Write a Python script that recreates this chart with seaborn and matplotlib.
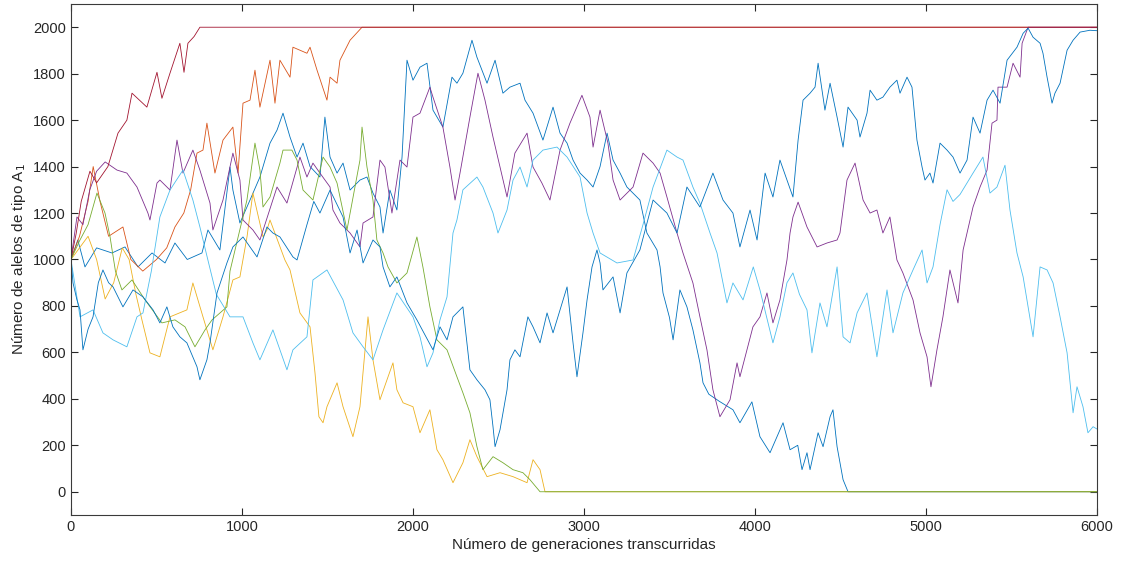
import matplotlib
matplotlib.use("Agg")
import matplotlib.pyplot as plt
import seaborn as sns

# generations / allele counts, one pair of lists per run
blue1_gen = [0, 40, 82, 150, 240, 316, 392, 474, 550, 608, 680, 766, 801, 871, 930, 947, 988, 1047, 1105,
             1164, 1205, 1240, 1281, 1322, 1357, 1398, 1456, 1485, 1515, 1556, 1591, 1632, 1690, 1731, 1766,
             1807, 1825, 1865, 1906, 1936, 1953, 1965, 2000, 2041, 2082, 2117, 2175, 2228, 2257, 2292, 2345,
             2374, 2433, 2480, 2526, 2567, 2626, 2655, 2702, 2760, 2819, 2860, 2901, 2936, 2977, 3018, 3053,
             3094, 3135, 3170, 3211, 3251, 3327, 3368, 3427, 3445, 3462, 3500, 3521, 3561, 3602, 3637, 3678,
             3696, 3730, 3790, 3871, 3912, 3982, 4029, 4088, 4164, 4205, 4250, 4275, 4304, 4322, 4369, 4398,
             4439, 4456, 4480, 4515, 4544, 6000]
blue1_val = [1000, 1084, 968, 1050, 1028, 1054, 968, 1028, 985, 1071, 1000, 1028, 1127, 1041, 1398, 1299, 1157,
             1256, 1355, 1501, 1557, 1630, 1527, 1441, 1501, 1400, 1355, 1613, 1441, 1372, 1415, 1299, 1342,
             1355, 1286, 1226, 1114, 1299, 1213, 1441, 1686, 1858, 1772, 1828, 1845, 1643, 1570, 1785, 1759,
             1802, 1944, 1871, 1759, 1858, 1716, 1742, 1759, 1686, 1630, 1514, 1656, 1544, 1501, 1428, 1372,
             1342, 1312, 1400, 1544, 1428, 1372, 1312, 1256, 1114, 1041, 968, 856, 750, 654, 869, 796, 697,
             555, 469, 420, 390, 353, 297, 387, 237, 168, 297, 181, 200, 95, 168, 95, 254, 194, 323, 353, 194,
             52, 0, 0]

orange_gen = [0, 50, 100, 130, 170, 220, 304, 350, 420, 500, 560, 608, 660, 700, 737, 772, 795, 842, 889, 947,
              977, 1006, 1047, 1076, 1105, 1164, 1193, 1222, 1281, 1298, 1380, 1398, 1439, 1497, 1515, 1556,
              1573, 1632, 1702, 6000]
orange_val = [1000, 1100, 1250, 1400, 1250, 1100, 1140, 1000, 950, 1000, 1050, 1140, 1200, 1300, 1458, 1471,
              1587, 1372, 1514, 1570, 1372, 1673, 1686, 1815, 1656, 1858, 1673, 1858, 1785, 1914, 1888, 1914,
              1815, 1686, 1785, 1759, 1858, 1944, 2000, 2000]

yellow_gen = [0, 50, 100, 150, 200, 250, 300, 340, 380, 415, 462, 520, 579, 678, 713, 772, 830, 889, 947, 988,
              1030, 1064, 1123, 1146, 1164, 1251, 1281, 1339, 1398, 1427, 1450, 1474, 1497, 1556, 1591, 1649,
              1690, 1737, 1766, 1807, 1883, 1906, 1942, 2000, 2041, 2099, 2140, 2175, 2234, 2292, 2333, 2374,
              2433, 2509, 2585, 2667, 2702, 2743, 2772, 6000]
yellow_val = [1000, 1050, 1100, 1000, 830, 900, 1050, 1000, 850, 740, 598, 581, 753, 783, 899, 753, 611, 753,
              912, 925, 1100, 1286, 1097, 1127, 1170, 998, 955, 770, 710, 512, 323, 297, 366, 469, 366, 237,
              366, 753, 568, 396, 555, 439, 383, 366, 254, 353, 181, 138, 39, 125, 224, 151, 65, 82, 65, 39,
              138, 95, 0, 0]

purple_gen = [0, 35, 70, 110, 150, 200, 269, 327, 386, 450, 462, 503, 520, 579, 620, 655, 713, 754, 813, 830,
              889, 947, 988, 1006, 1064, 1105, 1205, 1263, 1339, 1380, 1415, 1456, 1515, 1532, 1573, 1632, 1690,
              1708, 1766, 1807, 1836, 1877, 1924, 1965, 2000, 2041, 2099, 2117, 2175, 2216, 2246, 2275, 2333,
              2380, 2421, 2468, 2509, 2550, 2596, 2667, 2702, 2754, 2801, 2860, 2918, 2988, 3035, 3053, 3094,
              3140, 3170, 3211, 3287, 3345, 3404, 3445, 3485, 3544, 3579, 3637, 3678, 3719, 3754, 3795, 3854,
              3895, 3912, 3953, 3988, 4029, 4070, 4105, 4146, 4187, 4205, 4222, 4252, 4304, 4363, 4421, 4480,
              4497, 4538, 4585, 4632, 4673, 4713, 4748, 4789, 4830, 4865, 4924, 4965, 5006, 5029, 5064, 5099,
              5140, 5187, 5217, 5275, 5316, 5357, 5386, 5415, 5421, 5474, 5509, 5550, 5562, 5597, 6000]
purple_val = [1000, 1183, 1150, 1300, 1380, 1420, 1385, 1372, 1312, 1200, 1170, 1329, 1342, 1299, 1514, 1372,
              1471, 1385, 1243, 1127, 1256, 1458, 1342, 1170, 1127, 1084, 1312, 1243, 1441, 1355, 1415, 1372,
              1312, 1213, 1157, 1114, 1054, 1157, 1183, 1428, 1398, 1200, 1428, 1398, 1613, 1630, 1742, 1699,
              1570, 1398, 1256, 1372, 1613, 1802, 1686, 1527, 1398, 1269, 1458, 1544, 1398, 1329, 1256, 1471,
              1587, 1707, 1613, 1484, 1643, 1501, 1342, 1256, 1312, 1458, 1415, 1372, 1269, 1114, 1028, 899,
              753, 611, 439, 323, 396, 555, 495, 611, 710, 753, 856, 727, 826, 998, 1114, 1183, 1247, 1140,
              1054, 1071, 1084, 1114, 1342, 1415, 1256, 1200, 1213, 1114, 1183, 998, 942, 826, 684, 581, 452,
              611, 753, 955, 813, 1041, 1226, 1312, 1385, 1587, 1600, 1742, 1742, 1845, 1785, 1931, 2000, 2000]

green_gen = [0, 50, 100, 152, 199, 228, 260, 298, 357, 433, 532, 608, 667, 725, 784, 825, 912, 930, 1029, 1076,
             1105, 1123, 1164, 1222, 1240, 1292, 1322, 1357, 1415, 1474, 1515, 1556, 1614, 1690, 1702, 1731,
             1766, 1789, 1825, 1854, 1906, 1965, 2023, 2058, 2099, 2140, 2199, 2257, 2292, 2333, 2374, 2409,
             2468, 2526, 2585, 2643, 2684, 2743, 6000]
green_val = [1000, 1080, 1150, 1286, 1200, 1100, 950, 869, 912, 826, 727, 740, 710, 624, 697, 740, 796, 950,
             1256, 1501, 1385, 1226, 1269, 1415, 1471, 1471, 1428, 1299, 1256, 1441, 1398, 1329, 1127, 1428,
             1570, 1398, 1256, 1084, 1028, 968, 899, 942, 1097, 968, 796, 654, 611, 495, 426, 340, 194, 95,
             151, 125, 95, 82, 52, 0, 0]

lblue_gen = [0, 53, 129, 187, 246, 327, 386, 421, 470, 520, 579, 655, 713, 754, 800, 850, 930, 1006, 1064, 1105,
             1181, 1263, 1298, 1380, 1415, 1497, 1591, 1649, 1708, 1766, 1825, 1906, 2000, 2041, 2082, 2117,
             2158, 2199, 2234, 2257, 2292, 2374, 2409, 2468, 2497, 2550, 2585, 2626, 2667, 2702, 2760, 2842,
             2901, 2977, 3018, 3053, 3094, 3193, 3287, 3345, 3404, 3485, 3544, 3579, 3637, 3678, 3737, 3778,
             3836, 3871, 3930, 3990, 4029, 4105, 4146, 4187, 4222, 4260, 4304, 4333, 4380, 4421, 4480, 4515,
             4556, 4597, 4655, 4713, 4772, 4807, 4865, 4924, 4977, 5006, 5041, 5082, 5123, 5158, 5199, 5275,
             5333, 5374, 5415, 5462, 5491, 5532, 5568, 5626, 5667, 5708, 5743, 5784, 5825, 5860, 5883, 5918,
             5947, 5977, 6000]
lblue_val = [1000, 753, 783, 684, 654, 624, 753, 770, 950, 1183, 1299, 1385, 1256, 1140, 1000, 850, 753, 753,
             641, 568, 697, 525, 611, 667, 912, 955, 826, 684, 624, 568, 697, 856, 753, 667, 538, 598, 740,
             839, 1114, 1170, 1300, 1355, 1312, 1200, 1114, 1213, 1342, 1398, 1312, 1428, 1471, 1484, 1441,
             1355, 1200, 1114, 1028, 985, 998, 1150, 1312, 1471, 1441, 1428, 1312, 1243, 1114, 1028, 813, 899,
             826, 968, 869, 641, 753, 900, 942, 850, 783, 598, 813, 710, 968, 667, 641, 770, 856, 581, 869,
             684, 856, 955, 1041, 899, 968, 1150, 1300, 1250, 1280, 1372, 1441, 1286, 1312, 1406, 1213, 1028,
             925, 667, 968, 955, 899, 753, 598, 340, 452, 366, 254, 280, 270]

dred_gen = [0, 30, 60, 111, 150, 216, 275, 327, 357, 444, 503, 532, 579, 637, 661, 684, 720, 754, 6000]
dred_val = [1000, 1110, 1250, 1380, 1330, 1400, 1544, 1600, 1716, 1656, 1806, 1694, 1802, 1931, 1806, 1931,
            1960, 2000, 2000]

blue2_gen = [0, 12, 35, 53, 70, 100, 129, 160, 187, 220, 246, 304, 363, 421, 480, 520, 561, 596, 637, 678, 737,
             754, 795, 813, 854, 912, 947, 1006, 1088, 1146, 1181, 1222, 1298, 1322, 1380, 1420, 1456, 1515,
             1591, 1632, 1673, 1708, 1766, 1807, 1825, 1865, 1906, 1965, 2023, 2117, 2158, 2199, 2234, 2275,
             2292, 2333, 2374, 2421, 2450, 2468, 2480, 2509, 2550, 2567, 2596, 2626, 2672, 2702, 2743, 2784,
             2819, 2860, 2901, 2936, 2959, 2994, 3018, 3047, 3076, 3094, 3111, 3170, 3211, 3251, 3327, 3404,
             3485, 3544, 3602, 3678, 3754, 3813, 3871, 3912, 3971, 4012, 4059, 4105, 4146, 4187, 4222, 4252,
             4281, 4322, 4351, 4369, 4409, 4439, 4480, 4515, 4544, 4597, 4614, 4655, 4673, 4713, 4748, 4789,
             4830, 4848, 4889, 4918, 4947, 4977, 4994, 5023, 5041, 5082, 5123, 5158, 5199, 5240, 5275, 5316,
             5357, 5392, 5433, 5474, 5532, 5568, 5597, 5626, 5667, 5684, 5708, 5737, 5754, 5784, 5825, 5860,
             5901, 5959, 6000]
blue2_val = [1000, 899, 826, 783, 611, 700, 753, 900, 955, 900, 882, 796, 869, 839, 783, 727, 796, 710, 667, 641,
             538, 482, 568, 641, 856, 985, 1054, 1097, 1011, 1140, 1114, 1097, 1011, 998, 1150, 1250, 1200,
             1299, 1183, 1028, 1127, 985, 1084, 1054, 968, 882, 925, 813, 740, 611, 710, 654, 753, 783, 796,
             525, 482, 439, 396, 280, 194, 267, 439, 568, 611, 581, 753, 710, 641, 770, 684, 783, 882, 641,
             495, 684, 826, 968, 1041, 985, 869, 925, 770, 942, 1041, 1256, 1200, 1114, 1312, 1226, 1372, 1256,
             1200, 1054, 1213, 1084, 1372, 1269, 1428, 1342, 1269, 1514, 1686, 1716, 1742, 1845, 1643, 1759,
             1613, 1484, 1656, 1600, 1527, 1630, 1729, 1686, 1699, 1742, 1772, 1716, 1785, 1742, 1514, 1398,
             1342, 1372, 1329, 1501, 1471, 1441, 1372, 1428, 1613, 1544, 1686, 1729, 1673, 1858, 1914, 1974,
             1996, 1957, 1931, 1888, 1785, 1673, 1716, 1759, 1901, 1944, 1979, 1987, 1985]

# MATLAB default colour order, in the order the runs were plotted
runs = [
    (blue1_gen, blue1_val, "#0072BD"),
    (orange_gen, orange_val, "#D95319"),
    (yellow_gen, yellow_val, "#EDB120"),
    (purple_gen, purple_val, "#7E2F8E"),
    (green_gen, green_val, "#77AC30"),
    (lblue_gen, lblue_val, "#4DBEEE"),
    (dred_gen, dred_val, "#A2142F"),
    (blue2_gen, blue2_val, "#0072BD"),
]

sns.set_style("white")
plt.rcParams["font.family"] = ["Liberation Sans", "DejaVu Sans"]

fig = plt.figure(figsize=(11.21, 5.63), dpi=100)
ax = fig.add_axes([0.0633, 0.0853, 0.9153, 0.9076])

for g, v, c in runs:
    sns.lineplot(x=g, y=v, color=c, linewidth=0.6, ax=ax, estimator=None, sort=False)

ax.set_xlim(0, 6000)
ax.set_ylim(-100, 2100)
ax.set_xticks(range(0, 6001, 1000))
ax.set_yticks(range(0, 2001, 200))
ax.tick_params(direction="in", length=5, width=0.8, colors="#262626", labelsize=10.5,
               top=True, right=True, bottom=True, left=True, labeltop=False, labelright=False)
for s in ax.spines.values():
    s.set_color("#3a3a3a")
    s.set_linewidth(0.8)
    s.set_visible(True)

ax.set_xlabel("Número de generaciones transcurridas", fontsize=11, color="#262626", labelpad=3)
ax.set_ylabel("Número de alelos de tipo A$_1$", fontsize=11, color="#262626", labelpad=4)

fig.savefig("out.png", dpi=100)
